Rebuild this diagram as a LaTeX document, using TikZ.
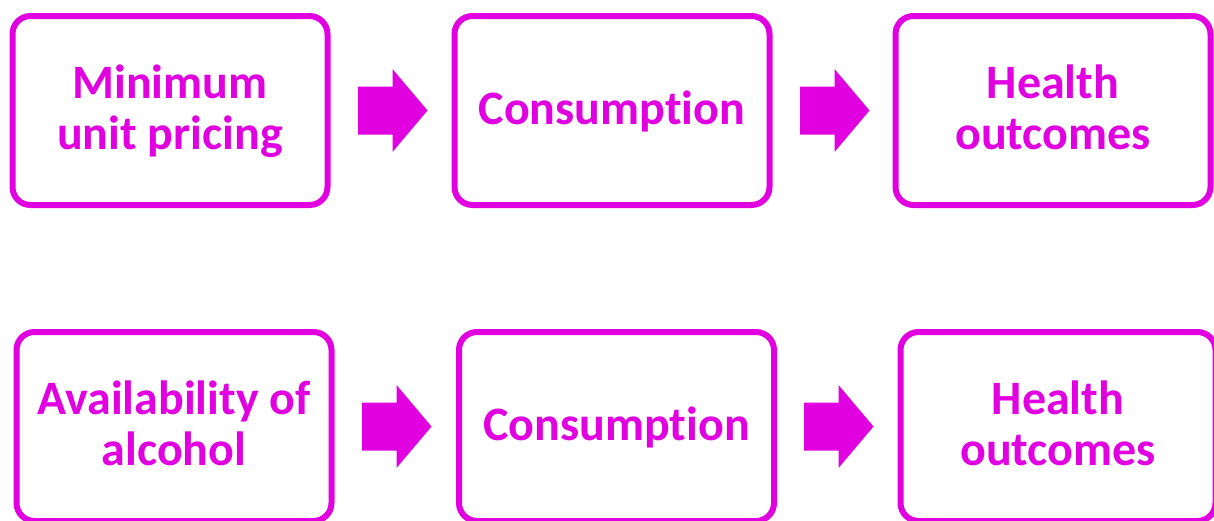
\documentclass[tikz,border=0pt]{standalone}
\usepackage{fontspec}
\setmainfont{Carlito}[Ligatures=NoCommon]
\usetikzlibrary{calc}
\definecolor{mag}{RGB}{224,0,224}
\newcommand{\lnstrut}{\rule[-8pt]{0pt}{43pt}}
\tikzset{
  stagebox/.style={draw=mag, line width=6pt, rounded corners=18pt, fill=white,
    minimum width=315pt, minimum height=189pt, inner sep=0pt, align=center,
    text=mag, font=\fontsize{48}{51}\selectfont\bfseries},
  blockarrow/.pic={\fill[mag] (0,-24) -- (34.5,-24) -- (34.5,-41.5) -- (69.5,0)
    -- (34.5,41.5) -- (34.5,24) -- (0,24) -- cycle;}
}
\begin{document}
\begin{tikzpicture}[x=1pt,y=-1pt]
\useasboundingbox (0,0) rectangle (1214,520);
% top row
\node[stagebox] (b1) at (170,110.5) {\lnstrut Minimum\\\lnstrut unit pricing};
\node[stagebox] (b2) at (612,110.5) {\lnstrut Consumption};
\node[stagebox] (b3) at (1053,110.5) {\lnstrut Health\\\lnstrut outcomes};
\pic at ($(b1.east)+(27.5,0)$) {blockarrow};
\pic at ($(b2.east)+(27.5,0)$) {blockarrow};
% bottom row
\node[stagebox] (c1) at (174,426.5) {\lnstrut Availability of\\\lnstrut alcohol};
\node[stagebox] (c2) at (616.5,426.5) {\lnstrut Consumption};
\node[stagebox] (c3) at (1058,426.5) {\lnstrut Health\\\lnstrut outcomes};
\pic at ($(c1.east)+(27.5,0)$) {blockarrow};
\pic at ($(c2.east)+(27,0)$) {blockarrow};
\end{tikzpicture}
\end{document}
